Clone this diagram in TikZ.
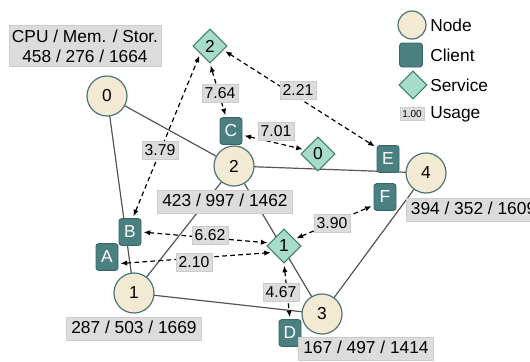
\documentclass[tikz,border=0pt]{standalone}
\usepackage{fontspec}
\setmainfont{Liberation Sans}
\usetikzlibrary{shapes.geometric,arrows.meta}

\definecolor{nodefill}{HTML}{F2EAD2}
\definecolor{nodeline}{HTML}{4E7474}
\definecolor{clientfill}{HTML}{4B8081}
\definecolor{clientline}{HTML}{3A6464}
\definecolor{svcfill}{HTML}{A7DCCB}
\definecolor{svcline}{HTML}{407C70}
\definecolor{usagefill}{HTML}{DCDCDC}
\definecolor{usageline}{HTML}{CCCCCC}
\definecolor{linkgray}{HTML}{555555}

\tikzset{
  hostnode/.style={circle, draw=nodeline, fill=nodefill, line width=0.9pt,
    minimum size=30pt, inner sep=0pt, font=\fontsize{13}{15}\selectfont},
  clientbox/.style={rectangle, rounded corners=2pt, draw=clientline, fill=clientfill,
    line width=0.7pt, minimum width=16.5pt, minimum height=20pt, inner sep=0pt,
    text=white, font=\fontsize{13}{15}\selectfont},
  svcshape/.style={diamond, draw=svcline, fill=svcfill, line width=0.8pt,
    minimum size=25.5pt, inner sep=0pt, font=\fontsize{13}{15}\selectfont},
  infobase/.style={rectangle, fill=usagefill, draw=usageline, line width=0.3pt,
    inner xsep=3.5pt, inner ysep=2.5pt, font=\fontsize{13}{15}\selectfont},
  hostinfo/.style={infobase, text height=9.5pt, text depth=2.5pt},
  usagelbl/.style={rectangle, fill=usagefill, draw=usageline, line width=0.3pt,
    inner xsep=2pt, inner ysep=2pt, text height=8.5pt, text depth=1pt,
    font=\fontsize{11.8}{13}\selectfont},
  link/.style={draw=linkgray, line width=0.9pt},
  flow/.style={dashed, dash pattern=on 3.5pt off 2.5pt, line width=0.9pt,
    {Latex[length=5pt,width=4pt]}-{Latex[length=5pt,width=4pt]},
    shorten <=1.5pt, shorten >=1.5pt},
  legendtxt/.style={anchor=west, inner sep=0pt, font=\fontsize{13}{15}\selectfont}
}

\begin{document}
\begin{tikzpicture}[x=0.75pt,y=-0.75pt]
\useasboundingbox (0,0) rectangle (530,361);

% host positions (drawn after the links)
\coordinate (p0) at (107,96);
\coordinate (p1) at (134,293);
\coordinate (p2) at (234,166);
\coordinate (p3) at (322,314);
\coordinate (p4) at (426,173);

% physical links
\draw[link] (p0) -- (p2);
\draw[link] (p0) -- (p1);
\draw[link] (p1) -- (p2);
\draw[link] (p1) -- (p3);
\draw[link] (p2) -- (p3);
\draw[link] (p2) -- (p4);
\draw[link] (p3) -- (p4);

% hosts
\node[hostnode] (n0) at (p0) {0};
\node[hostnode] (n1) at (p1) {1};
\node[hostnode] (n2) at (p2) {2};
\node[hostnode] (n3) at (p3) {3};
\node[hostnode] (n4) at (p4) {4};

% services
\node[svcshape] (s0) at (318,154) {0};
\node[svcshape] (s1) at (284,246) {1};
\node[svcshape] (s2) at (210,46) {2};

% clients
\node[clientbox] (cA) at (107,257) {A};
\node[clientbox] (cB) at (130,232) {B};
\node[clientbox] (cC) at (231,131) {C};
\node[clientbox] (cD) at (290,333) {D};
\node[clientbox] (cE) at (388,159) {E};
\node[clientbox] (cF) at (385,197) {F};

% host capacities
\node[infobase, align=center, inner xsep=2pt, inner ysep=3pt]
  (i0) at (85,46) {CPU / Mem. / Stor.\\458 / 276 / 1664};
\node[hostinfo] (i1) at (134,329) {287 / 503 / 1669};
\node[hostinfo] (i2) at (225,202) {423 / 997 / 1462};
\node[hostinfo] (i3) at (366,349) {167 / 497 / 1414};
\node[hostinfo, anchor=west] (i4) at (406,210) {394 / 352 / 1609};

% client-service flows
\draw[flow] (cB.79) -- (s2.218);
\draw[flow] (s2.south) -- (cC.110);
\draw[flow] (cC.-20) -- (s0.162);
\draw[flow] (s2.-17) -- (cE.135);
\draw[flow] (cB.east) -- (s1.168);
\draw[flow] (cA.-30) -- (s1.210);
\draw[flow] (s1.33) -- (cF.216);
\draw[flow] (s1.south) -- (cD.north);

% flow usages
\node[usagelbl] (u1) at (160,150) {3.79};
\node[usagelbl] (u2) at (220,93) {7.64};
\node[usagelbl] (u3) at (276,131) {7.01};
\node[usagelbl] (u4) at (298,90) {2.21};
\node[usagelbl] (u5) at (210,235) {6.62};
\node[usagelbl] (u6) at (194,262) {2.10};
\node[usagelbl] (u7) at (332,223) {3.90};
\node[usagelbl] (u8) at (281,292) {4.67};

% legend
\node[hostnode, minimum size=21pt] (lg1) at (412,25) {};
\node[clientbox, minimum width=17pt, minimum height=18pt] (lg2) at (411,55) {};
\node[svcshape, minimum size=21pt] (lg3) at (413,85) {};
\node[usagelbl, font=\fontsize{7.5}{8}\selectfont, text height=5.5pt, text depth=0.5pt,
  inner xsep=1.5pt, inner ysep=2pt] (lg4) at (412,114) {1.00};
\node[legendtxt] (lt1) at (430,25) {Node};
\node[legendtxt] (lt2) at (430,55) {Client};
\node[legendtxt] (lt3) at (430,85) {Service};
\node[legendtxt] (lt4) at (430,114) {Usage};
\end{tikzpicture}
\end{document}
